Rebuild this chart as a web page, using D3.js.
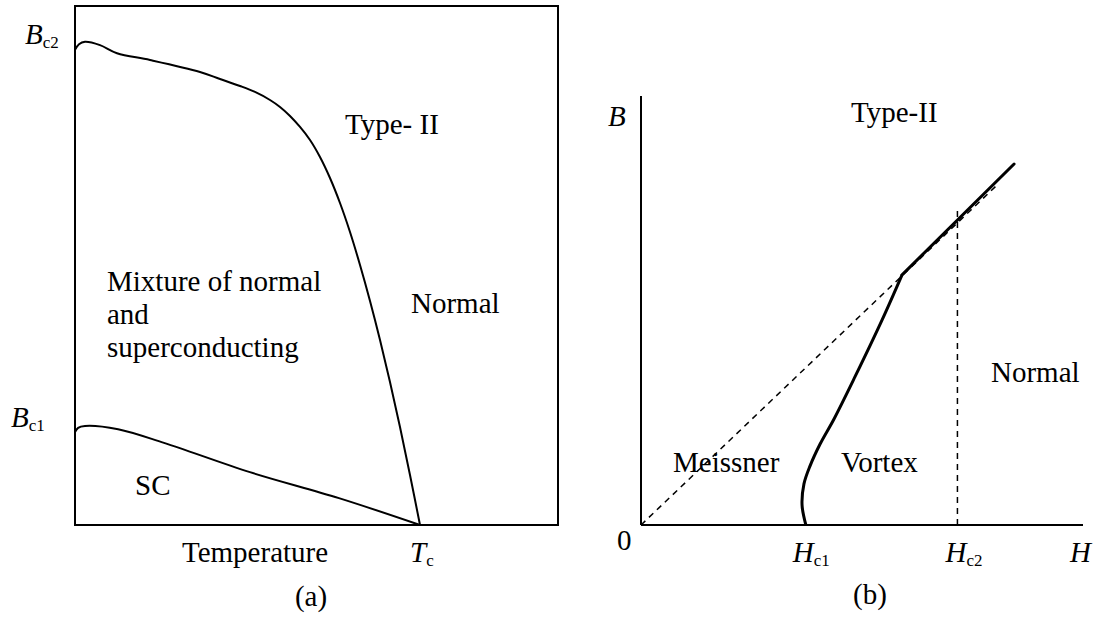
<!DOCTYPE html>
<html>
<head>
<meta charset="utf-8">
<script src="https://cdn.jsdelivr.net/npm/d3@7"></script>
<style>
  html, body { margin: 0; padding: 0; background: #fff; }
  svg { display: block; }
  text { font-family: "Liberation Serif", "Times New Roman", "DejaVu Serif", serif; fill: #000; }
</style>
</head>
<body>
<svg id="chart" width="1097" height="618"></svg>
<script>
// ---- (a) Phase diagram: critical fields vs temperature (T in units of Tc) ----
const bc2Temp  = [0, 0.0116, 0.029, 0.0725, 0.1217, 0.2174, 0.3623, 0.4203, 0.4783, 0.5217, 0.5652, 0.5942, 0.6232, 0.6522, 0.6812, 0.7101, 0.7391, 0.7681, 0.7971, 0.8261, 0.8551, 0.8841, 0.9130, 0.9420, 0.9710, 1];
const bc2Field = [1.007, 1.019, 1.024, 1.017, 1.000, 0.9856, 0.9602, 0.9453, 0.9305, 0.9178, 0.9008, 0.8860, 0.8669, 0.8436, 0.8160, 0.7800, 0.7355, 0.6825, 0.6210, 0.5511, 0.4748, 0.3921, 0.3031, 0.2077, 0.1060, 0];
const bc1Temp  = [0, 0.009, 0.029, 0.125, 0.258, 0.507, 0.765, 1];
const bc1Field = [0.197, 0.206, 0.210, 0.203, 0.174, 0.112, 0.057, 0];
const tempDomain  = [0, 1.4];
const fieldDomain = [0, 1.1];
const bc2Mark = 1.009, bc1Mark = 0.197, tcMark = 1;

// ---- (b) B–H curve of a type-II superconductor (H in units of Hc2) ----
const vortexH = [0.521, 0.509, 0.515, 0.534, 0.566, 0.610, 0.676, 0.762, 0.825];
const vortexB = [0, 0.066, 0.136, 0.195, 0.268, 0.351, 0.490, 0.679, 0.828];
const normalH = [0.825, 1.179];
const normalB = [0.828, 1.195];
const vacuumH = [0, 1.13];          // B = mu0 H reference line
const hc2Mark = 1, hc1Mark = 0.521, hc2Top = 1.046;
const hDomain = [0, 1.4];
const bDomain = [0, 1.42];

const svg = d3.select("#chart");
const SERIF = "'Liberation Serif', 'Times New Roman', serif";

// ================= panel (a) =================
const xA = d3.scaleLinear().domain(tempDomain).range([75, 558]);
const yA = d3.scaleLinear().domain(fieldDomain).range([525, 6]);
const gA = svg.append("g");

gA.append("rect")
  .attr("x", xA(tempDomain[0])).attr("y", yA(fieldDomain[1]))
  .attr("width", xA(tempDomain[1]) - xA(tempDomain[0]))
  .attr("height", yA(fieldDomain[0]) - yA(fieldDomain[1]))
  .attr("fill", "none").attr("stroke", "#000").attr("stroke-width", 2);

const lineA = d3.line().x(d => xA(d[0])).y(d => yA(d[1])).curve(d3.curveCatmullRom.alpha(0.5));
gA.append("path").datum(d3.zip(bc2Temp, bc2Field)).attr("d", lineA)
  .attr("fill", "none").attr("stroke", "#000").attr("stroke-width", 2);
gA.append("path").datum(d3.zip(bc1Temp, bc1Field)).attr("d", lineA)
  .attr("fill", "none").attr("stroke", "#000").attr("stroke-width", 2);

function subLabel(g, x, y, main, sub, anchor) {
  const t = g.append("text").attr("x", x).attr("y", y).attr("font-size", 29)
    .style("font-family", SERIF).attr("text-anchor", anchor || "start");
  t.append("tspan").attr("font-style", "italic").text(main);
  if (sub) t.append("tspan").attr("font-size", 17).attr("dy", 4).text(sub);
  return t;
}
function plain(g, x, y, s, anchor) {
  return g.append("text").attr("x", x).attr("y", y).attr("font-size", 29)
    .style("font-family", SERIF).attr("text-anchor", anchor || "start").text(s);
}

subLabel(gA, 25, yA(bc2Mark) - 5, "B", "c2");
subLabel(gA, 11, yA(bc1Mark) - 5, "B", "c1");
subLabel(gA, xA(tcMark) - 10, 562, "T", "c");
plain(gA, 182, 562, "Temperature");
plain(gA, 311, 606, "(a)", "middle");
plain(gA, 345, 134, "Type- II");
plain(gA, 107, 291, "Mixture of normal");
plain(gA, 107, 324, "and");
plain(gA, 107, 357, "superconducting");
plain(gA, 411, 313, "Normal");
plain(gA, 135, 495, "SC");

// ================= panel (b) =================
const xB = d3.scaleLinear().domain(hDomain).range([641, 1084]);
const yB = d3.scaleLinear().domain(bDomain).range([525, 96]);
const gB = svg.append("g");

// axes
gB.append("line").attr("x1", xB(0)).attr("x2", xB(0)).attr("y1", yB(0)).attr("y2", yB(bDomain[1]))
  .attr("stroke", "#000").attr("stroke-width", 2);
gB.append("line").attr("x1", xB(0)).attr("x2", xB(hDomain[1]) - 1).attr("y1", yB(0)).attr("y2", yB(0))
  .attr("stroke", "#000").attr("stroke-width", 2);

// dashed references
gB.append("line").attr("x1", xB(vacuumH[0])).attr("y1", yB(vacuumH[0]))
  .attr("x2", xB(vacuumH[1])).attr("y2", yB(vacuumH[1]))
  .attr("stroke", "#000").attr("stroke-width", 1.5).attr("stroke-dasharray", "6,5");
gB.append("line").attr("x1", xB(hc2Mark)).attr("y1", yB(0))
  .attr("x2", xB(hc2Mark)).attr("y2", yB(hc2Top))
  .attr("stroke", "#000").attr("stroke-width", 1.5).attr("stroke-dasharray", "6,5");

// solid magnetization curve
const lineB = d3.line().x(d => xB(d[0])).y(d => yB(d[1])).curve(d3.curveCatmullRom.alpha(0.5));
gB.append("path").datum(d3.zip(vortexH, vortexB)).attr("d", lineB)
  .attr("fill", "none").attr("stroke", "#000").attr("stroke-width", 3);
gB.append("path").datum(d3.zip(normalH, normalB)).attr("d", d3.line().x(d => xB(d[0])).y(d => yB(d[1])))
  .attr("fill", "none").attr("stroke", "#000").attr("stroke-width", 3).attr("stroke-linecap", "round");

subLabel(gB, 608, 126, "B");
plain(gB, 617, 550, "0");
subLabel(gB, xB(hc1Mark) - 13, 562, "H", "c1");
subLabel(gB, xB(hc2Mark) - 12, 562, "H", "c2");
subLabel(gB, 1070, 562, "H");
plain(gB, 870, 604, "(b)", "middle");
plain(gB, 851, 122, "Type-II");
plain(gB, 673, 472, "Meissner");
plain(gB, 841, 472, "Vortex");
plain(gB, 991, 382, "Normal");
</script>
</body>
</html>
